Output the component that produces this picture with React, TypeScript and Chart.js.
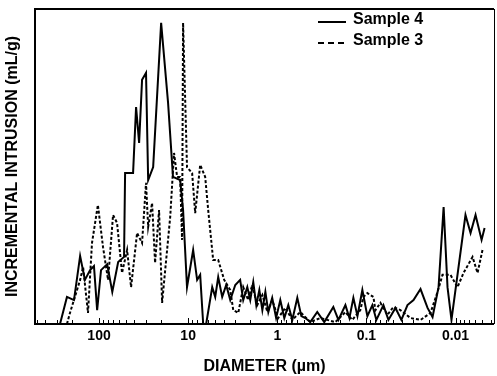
import React, { useEffect, useRef } from "react";
import { Chart, registerables } from "chart.js";

Chart.register(...registerables);

// Sample 4 (solid): pore diameter (µm) and incremental intrusion (relative units)
const diam4 = [274, 229, 191, 163, 144, 126, 114, 105, 95, 81, 71, 61, 52.4, 51, 41.5, 38.4, 35.5, 32.9, 29.7, 28.1, 24.7, 20.1, 16.8, 14.8, 12.3, 11.4, 10.3, 8.79, 7.93, 7.33, 6.78, 6.28, 5.37, 4.97, 4.6, 4.15, 3.74, 3.37, 2.96, 2.61, 2.41, 2.17, 2.01, 1.86, 1.72, 1.59, 1.47, 1.36, 1.26, 1.14, 1.03, 0.925, 0.834, 0.752, 0.678, 0.596, 0.537, 0.484, 0.426, 0.356, 0.297, 0.235, 0.206, 0.172, 0.155, 0.14, 0.126, 0.111, 0.0975, 0.0857, 0.0773, 0.0644, 0.0566, 0.0472, 0.0405, 0.0346, 0.0296, 0.0247, 0.0206, 0.0181, 0.0155, 0.0136, 0.0123, 0.0111, 0.00773, 0.00678, 0.00596, 0.0051, 0.00472];
const vol4 = [0, 8.6, 7.6, 21.6, 14.0, 17.1, 18.4, 4.4, 17.1, 19.0, 10.2, 19.7, 21.3, 47.9, 47.9, 68.9, 57.5, 77.5, 79.7, 45.7, 49.8, 95.6, 70.2, 46.7, 45.7, 36.2, 11.7, 23.5, 14.0, 15.6, 0, 0, 11.7, 8.6, 14.9, 8.6, 12.4, 7.6, 12.4, 14.0, 7.6, 11.7, 7.6, 13.3, 6.0, 10.8, 4.4, 10.2, 3.8, 8.3, 1.9, 7.6, 1.9, 6.0, 1.3, 8.3, 2.5, 1.9, 0.6, 3.8, 0.6, 5.4, 1.3, 6.0, 1.9, 8.3, 2.5, 10.8, 2.5, 6.0, 1.3, 6.0, 1.3, 5.1, 1.3, 6.0, 7.6, 11.1, 5.1, 2.2, 11.7, 37.1, 11.7, 1.3, 34.6, 28.9, 34.6, 26.7, 30.5];

// Sample 3 (dashed)
const diam3 = [229, 212, 163, 151, 133, 120, 103, 90.2, 79.2, 69.6, 62.8, 55.2, 48.4, 43.7, 37.4, 32.9, 29.7, 28.1, 25.4, 23.5, 21.2, 19.6, 18.1, 15.9, 14.4, 13.3, 12.3, 11.7, 11.4, 10.3, 9.02, 8.34, 7.33, 6.44, 5.96, 5.24, 4.6, 3.94, 3.37, 3.12, 2.74, 2.41, 2.12, 1.91, 1.68, 1.47, 1.29, 1.14, 0.975, 0.813, 0.678, 0.552, 0.426, 0.329, 0.223, 0.172, 0.144, 0.117, 0.108, 0.0975, 0.0834, 0.0792, 0.0696, 0.0581, 0.0498, 0.0415, 0.032, 0.0247, 0.0191, 0.0159, 0.014, 0.0114, 0.0095, 0.00813, 0.00644, 0.00566, 0.00498];
const vol3 = [0, 3.5, 14.0, 18.1, 3.5, 25.7, 37.8, 24.4, 14.0, 34.6, 32.1, 16.2, 23.5, 11.7, 28.9, 25.7, 44.8, 30.8, 38.4, 19.4, 36.2, 6.7, 17.1, 34.0, 54.3, 46.7, 46.7, 26.7, 95.6, 49.8, 47.9, 35.2, 50.5, 46.7, 36.2, 20.3, 20.3, 14.0, 10.8, 4.4, 3.5, 11.7, 7.6, 12.4, 6.0, 9.2, 3.8, 7.6, 1.9, 5.1, 1.3, 3.8, 0.6, 1.9, 0.6, 3.8, 1.3, 4.4, 8.6, 9.8, 8.6, 4.4, 6.7, 2.9, 5.4, 4.4, 1.9, 1.3, 3.5, 10.2, 15.6, 15.6, 11.7, 16.2, 21.3, 16.2, 23.5];

const seriesLabels = ["Sample 4", "Sample 3"];
const legendDashes = [[], [6, 4]];
const xTickValues = [100, 10, 1, 0.1, 0.01];
const xTickLabels = ["100", "10", "1", "0.1", "0.01"];
const xMin = 0.0037;
const xMax = 523;

const FONT = '"Liberation Sans", Arial, sans-serif';

const framePlugin = {
  id: "frame",
  afterDatasetsDraw(chart: any) {
    const { ctx, chartArea: a, scales } = chart;
    const xs = scales.x;
    ctx.save();
    ctx.strokeStyle = "#000";
    ctx.lineWidth = 1;
    for (let n = -3; n <= 2; n++) {
      for (let k = 1; k <= 9; k++) {
        const v = k * Math.pow(10, n);
        if (v < xMin || v > xMax) continue;
        const px = Math.round(xs.getPixelForValue(v)) + 0.5;
        const len = k === 1 ? 6 : 4;
        ctx.beginPath();
        ctx.moveTo(px, a.bottom);
        ctx.lineTo(px, a.bottom - len);
        ctx.stroke();
      }
    }
    ctx.lineWidth = 2;
    ctx.beginPath();
    ctx.moveTo(a.right, a.top);
    ctx.lineTo(a.left, a.top);
    ctx.lineTo(a.left, a.bottom);
    ctx.lineTo(a.right, a.bottom);
    ctx.stroke();
    ctx.lineWidth = 1;
    ctx.beginPath();
    ctx.moveTo(a.right + 0.5, a.top);
    ctx.lineTo(a.right + 0.5, a.bottom);
    ctx.stroke();
    ctx.restore();
  },
};

const legendPlugin = {
  id: "insideLegend",
  afterDraw(chart: any) {
    const { ctx } = chart;
    ctx.save();
    ctx.font = `bold 16px ${FONT}`;
    ctx.fillStyle = "#000";
    ctx.textBaseline = "middle";
    ctx.textAlign = "left";
    chart.data.datasets.forEach((ds: any, i: number) => {
      const y = 21 + i * 21;
      ctx.strokeStyle = "#000";
      ctx.lineWidth = 2;
      ctx.setLineDash(legendDashes[i] || []);
      ctx.beginPath();
      ctx.moveTo(318, y + 1);
      ctx.lineTo(346, y + 1);
      ctx.stroke();
      ctx.setLineDash([]);
      ctx.fillText(ds.label, 353, y - 1);
    });
    ctx.restore();
  },
};

export default function App() {
  const ref = useRef<HTMLCanvasElement | null>(null);

  useEffect(() => {
    if (!ref.current) return;
    const chart = new Chart(ref.current, {
      type: "line",
      data: {
        datasets: [
          {
            label: seriesLabels[0],
            data: diam4.map((d, i) => ({ x: d, y: vol4[i] })),
            borderColor: "#000",
            borderWidth: 2,
            pointRadius: 0,
            tension: 0,
            fill: false,
          },
          {
            label: seriesLabels[1],
            data: diam3.map((d, i) => ({ x: d, y: vol3[i] })),
            borderColor: "#000",
            borderWidth: 2,
            borderDash: [3, 2],
            pointRadius: 0,
            tension: 0,
            fill: false,
          },
        ],
      },
      options: {
        animation: false,
        responsive: false,
        devicePixelRatio: 1,
        layout: { padding: { top: 9, right: 3, bottom: 0, left: 0 } },
        plugins: {
          legend: { display: false },
          tooltip: { enabled: false },
        },
        scales: {
          x: {
            type: "logarithmic",
            reverse: true,
            min: xMin,
            max: xMax,
            grid: { display: false, drawTicks: false },
            border: { display: false },
            afterBuildTicks: (s: any) => {
              s.ticks = xTickValues.map((v) => ({ value: v }));
            },
            afterFit: (s: any) => {
              s.height = 52;
            },
            ticks: {
              autoSkip: false,
              maxRotation: 0,
              padding: 4,
              color: "#000",
              font: { family: FONT, size: 14, weight: "bold" },
              callback: (v: any) => {
                const idx = xTickValues.findIndex((t) => Math.abs(t - v) / t < 1e-6);
                return idx >= 0 ? xTickLabels[idx] : "";
              },
            },
            title: {
              display: true,
              text: "DIAMETER (µm)",
              color: "#000",
              font: { family: FONT, size: 16, weight: "bold" },
              padding: { top: 0, bottom: 0 },
            },
          },
          y: {
            min: 0,
            max: 100,
            grid: { display: false, drawTicks: false },
            border: { display: false },
            ticks: { display: false },
            afterFit: (s: any) => {
              s.width = 35;
            },
            title: {
              display: true,
              text: "INCREMENTAL INTRUSION (mL/g)",
              color: "#000",
              font: { family: FONT, size: 16, weight: "bold" },
              padding: { top: 3, bottom: 0 },
            },
          },
        },
      },
      plugins: [framePlugin, legendPlugin],
    });
    return () => chart.destroy();
  }, []);

  return (
    <div style={{ position: "absolute", left: 0, top: 0, width: 497, height: 376, background: "#fff" }}>
      <canvas ref={ref} width={497} height={376} />
    </div>
  );
}
